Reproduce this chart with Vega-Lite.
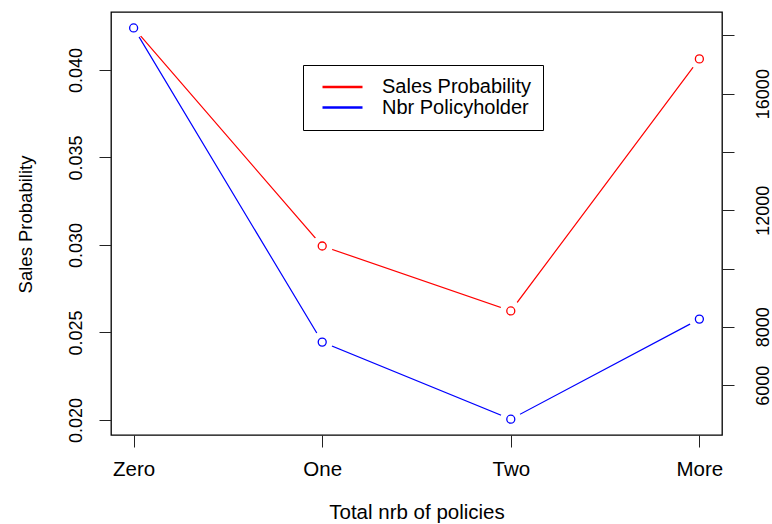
{
  "$schema": "https://vega.github.io/schema/vega-lite/v6.json",
  "width": 611,
  "height": 423,
  "autosize": {"type": "none"},
  "padding": {"left": 111, "top": 12, "right": 50, "bottom": 89},
  "background": "white",
  "data": {
    "values": [
      {"cat": "Zero", "sales": 0.0424, "nbr": 18254},
      {"cat": "One", "sales": 0.02994, "nbr": 7476},
      {"cat": "Two", "sales": 0.02623, "nbr": 4833},
      {"cat": "More", "sales": 0.04063, "nbr": 8265}
    ]
  },
  "encoding": {
    "x": {
      "field": "cat",
      "type": "ordinal",
      "sort": ["Zero", "One", "Two", "More"],
      "scale": {"type": "point", "padding": 0.12},
      "axis": {
        "title": "Total nrb of policies",
        "labelAngle": 0,
        "tickSize": 12,
        "labelPadding": 12,
        "labelFontSize": 20.5,
        "titleFontSize": 20.5,
        "labelBaseline": "top",
        "titleY": 83,
        "titleBaseline": "alphabetic"
      }
    }
  },
  "layer": [
    {
      "encoding": {
        "y": {
          "field": "sales",
          "type": "quantitative",
          "scale": {"domain": [0.01914, 0.04331], "nice": false, "zero": false},
          "axis": {
            "orient": "left",
            "title": "Sales Probability",
            "values": [0.02, 0.025, 0.03, 0.035, 0.04],
            "format": ".3f",
            "labelAngle": -90,
            "labelAlign": "center",
            "labelBaseline": "bottom",
            "labelPadding": 14,
            "tickSize": 12,
            "labelFontSize": 18,
            "labelOverlap": false,
            "titleFontSize": 18.5,
            "titleAngle": -90,
            "titleX": -80,
            "titleY": 212,
            "titleAlign": "center",
            "titleBaseline": "alphabetic"
          }
        }
      },
      "layer": [
        {
          "mark": {"type": "line", "strokeWidth": 1.2},
          "encoding": {
            "color": {
              "datum": "Sales Probability",
              "type": "nominal",
              "scale": {"domain": ["Sales Probability", "Nbr Policyholder"], "range": ["#FF0000", "#0000FF"]},
              "legend": {
                "orient": "none",
                "legendX": 192,
                "legendY": 53,
                "title": null,
                "strokeColor": "black",
                "fillColor": "white",
                "padding": 12,
                "symbolOffset": 16,
                "labelOffset": 28,
                "labelFontSize": 20,
                "labelColor": "black",
                "symbolType": "M-2,0H2",
                "symbolSize": 400,
                "symbolStrokeWidth": 2.5,
                "clipHeight": 20,
                "rowPadding": 0.5,
                "cornerRadius": 0
              }
            }
          }
        },
        {"mark": {"type": "circle", "color": "white", "opacity": 1, "size": 450}},
        {"mark": {"type": "point", "shape": "circle", "filled": false, "color": "#FF0000", "opacity": 1, "size": 64, "strokeWidth": 1.3}}
      ]
    },
    {
      "encoding": {
        "y": {
          "field": "nbr",
          "type": "quantitative",
          "scale": {"domain": [4290, 18800], "nice": false, "zero": false},
          "axis": {
            "orient": "right",
            "title": null,
            "values": [6000, 8000, 10000, 12000, 14000, 16000, 18000],
            "format": "d",
            "labelExpr": "(datum.value == 6000 || datum.value == 8000 || datum.value == 12000 || datum.value == 16000) ? datum.label : ''",
            "labelAngle": -90,
            "labelAlign": "center",
            "labelBaseline": "top",
            "labelPadding": 20,
            "tickSize": 12,
            "labelFontSize": 18,
            "labelOverlap": false
          }
        }
      },
      "layer": [
        {
          "mark": {"type": "line", "strokeWidth": 1.2},
          "encoding": {
            "color": {"datum": "Nbr Policyholder", "type": "nominal"}
          }
        },
        {"mark": {"type": "circle", "color": "white", "opacity": 1, "size": 450}},
        {"mark": {"type": "point", "shape": "circle", "filled": false, "color": "#0000FF", "opacity": 1, "size": 64, "strokeWidth": 1.3}}
      ]
    }
  ],
  "resolve": {"scale": {"y": "independent"}},
  "config": {
    "font": "Liberation Sans",
    "view": {"stroke": "black", "strokeWidth": 1.3},
    "axis": {
      "labelColor": "black",
      "titleColor": "black",
      "tickColor": "#222",
      "tickWidth": 1,
      "titleFontWeight": "normal",
      "grid": false,
      "domain": false
    }
  }
}
